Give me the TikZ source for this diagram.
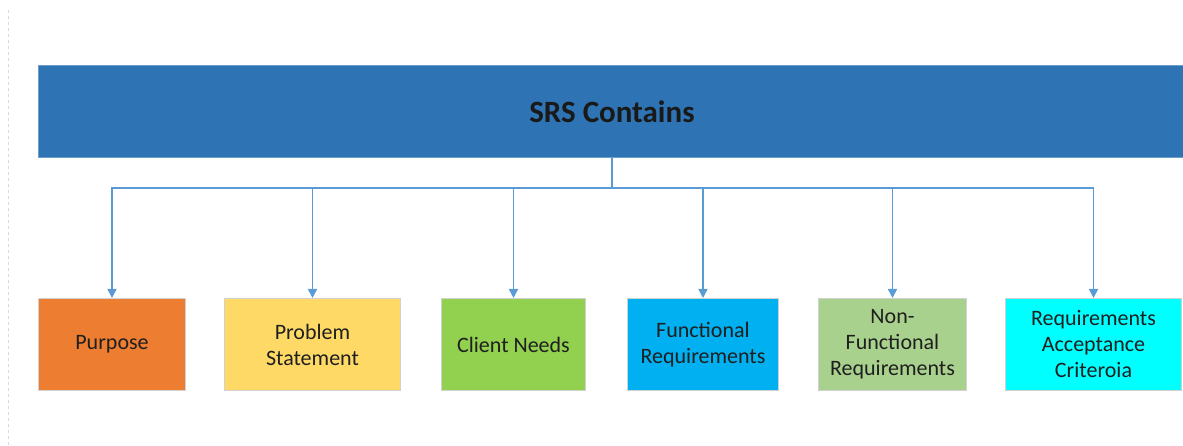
\documentclass[tikz,border=0pt]{standalone}
\usepackage{fontspec}
\setmainfont{Carlito}
\usepackage{tikz}
\usetikzlibrary {arrows.meta,
                 positioning}
\definecolor{srsblue}{HTML}{2E74B5}
\definecolor{linkblue}{HTML}{5B9BD5}
\definecolor{purposeorange}{HTML}{ED7D31}
\definecolor{problemyellow}{HTML}{FFD966}
\definecolor{clientgreen}{HTML}{92D050}
\definecolor{funcblue}{HTML}{00B0F0}
\definecolor{nonfuncgreen}{HTML}{A9D18E}
\definecolor{acceptcyan}{HTML}{00FFFF}
\tikzset{
        head/.style={fill=srsblue, draw=srsblue!70!white, line width=0.8pt,
                     minimum width=1147pt, minimum height=92pt,
                     text=black!90, font=\fontsize{31}{37}\selectfont\bfseries},
        item/.style={draw=black!18, line width=1pt, align=center,
                     minimum height=92pt, inner sep=2pt, text=black!88,
                     font=\fontsize{22}{26}\selectfont},
        link/.style={draw=linkblue, line width=1.6pt},
        myarrow/.style={link, -{Triangle[width=9pt, length=9pt]}},
 }

\begin{document}
\begin{tikzpicture}[x=1pt, y=-1pt]
    \useasboundingbox (0,0) rectangle (1183,446);
    \draw[dashed, black!15, line width=1pt] (8,10) -- (8,446);

    \node[head, anchor=north west] (srs) at (38,65) {SRS Contains};

    \node[item, fill=purposeorange, minimum width=147pt, anchor=north west] (purpose) at (38,298) {Purpose};
    \node[item, fill=problemyellow, minimum width=176pt, right=38pt of purpose] (problem) {Problem\\Statement};
    \node[item, fill=clientgreen, minimum width=144pt, right=40pt of problem] (client) {Client Needs};
    \node[item, fill=funcblue, minimum width=151pt, right=41pt of client] (func) {Functional\\Requirements};
    \node[item, fill=nonfuncgreen, minimum width=148pt, right=39pt of func] (nonfunc) {Non-\\Functional\\Requirements};
    \node[item, fill=acceptcyan, minimum width=176pt, right=38pt of nonfunc] (accept) {Requirements\\Acceptance\\Criteroia};

    \coordinate (split) at (612,188);
    \draw[link] (srs.south -| split) -- (split);
    \foreach \sub in {purpose, problem, client, func, nonfunc, accept}
        \draw[myarrow] (split) -| (\sub.north);
\end{tikzpicture}
\end{document}
